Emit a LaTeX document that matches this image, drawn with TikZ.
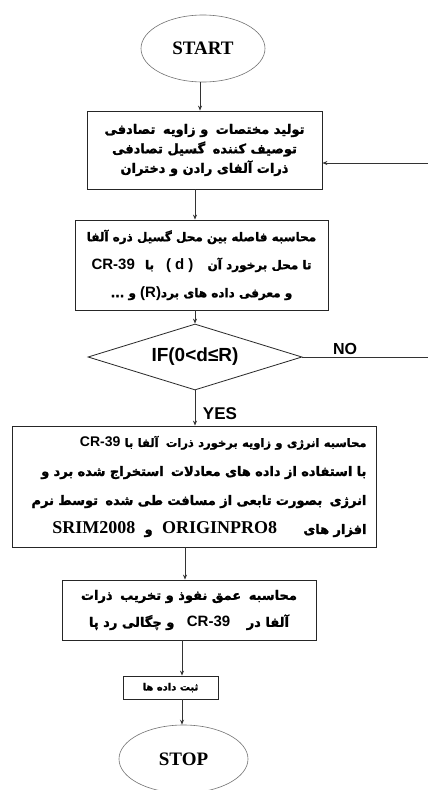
\documentclass[tikz,border=0pt]{standalone}
\usepackage{fontspec}
\setmainfont{Liberation Serif}
\newfontfamily\fa[Script=Arabic, BoldFeatures={FakeBold=1.6}]{DejaVu Sans}
\newfontfamily\las{Liberation Sans}
\TeXXeTstate=1
\usetikzlibrary{shapes.geometric,arrows.meta,calc}
\newcommand{\myrl}[1]{\beginR #1\endR}
\newcommand{\mylt}[1]{\beginL #1\endL{}}
\newcommand{\lsb}[2][15]{\mylt{{\las\bfseries\fontsize{#1}{#1}\selectfont #2}}}
\newcommand{\tsb}[1]{\mylt{{\rmfamily\bfseries\fontsize{18}{18}\selectfont #1}}}
\newcommand{\gap}[1]{\hspace{#1pt}}
\tikzset{
  box/.style={draw=black!85, line width=0.8pt, rectangle, inner sep=0pt},
  term/.style={draw=black!55, line width=0.6pt, ellipse, inner sep=0pt,
    font=\rmfamily\bfseries\fontsize{19}{22}\selectfont},
  arr/.style={draw=black!80, line width=0.8pt, -{Stealth[length=5pt,width=4pt]}},
  ptext/.style 2 args={font=\fa\bfseries\fontsize{#1}{#2}\selectfont, align=center},
  lbl/.style={font=\las\bfseries\fontsize{#1}{#1}\selectfont, inner sep=0pt}
}
\begin{document}
\begin{tikzpicture}[x=1pt,y=-1pt]
\useasboundingbox (0,0) rectangle (428,790);
\fill[white] (0,0) rectangle (428,790);

\node[term, minimum width=124pt, minimum height=67pt] (start) at (203,48.5) {START};

\node[box, ptext={13}{19.5}, minimum width=235pt, minimum height=78pt] (b1) at (204.5,150)
  {\myrl{تولید مختصات \gap{3}و زاویه \gap{3}تصادفی}\\
   \myrl{توصیف کننده \gap{3}گسیل تصادفی}\\
   \myrl{ذرات آلفای رادن و دختران}};

\node[box, ptext={12}{28}, minimum width=253pt, minimum height=90pt] (b2) at (201.5,265)
  {\myrl{محاسبه فاصله بین محل گسیل ذره آلفا}\\
   \myrl{تا محل برخورد آن \gap{10}\lsb{(\gap{4}d\gap{4})}\gap{8} با \gap{6}\lsb{CR-39}}\\
   \myrl{و معرفی داده های برد\lsb{(R)} و ...}};

\node[draw=black!85, line width=0.8pt, diamond, aspect=3.2, inner sep=0pt,
  minimum width=214pt, minimum height=66pt,
  font=\las\bfseries\fontsize{19}{20}\selectfont] (d) at (195,357) {IF(0<d≤R)};

\node[box, font=\fa\bfseries\fontsize{13}{29}\selectfont, align=right,
  text width=345pt, inner xsep=9.5pt, inner ysep=0pt, minimum height=121pt] (b3) at (194,486.5)
  {\myrl{{\fontsize{11.5}{29}\selectfont محاسبه انرژی و زاویه برخورد ذرات \gap{3}آلفا با} \lsb[14]{CR-39}}\\
   \myrl{با استفاده از داده های معادلات \gap{3}استخراج شده برد و}\\
   \myrl{انرژی \gap{3}بصورت تابعی از مسافت طی شده \gap{3}توسط نرم}\\
   \myrl{افزار های \gap{22}\tsb{ORIGINPRO8} \gap{5}و \gap{5}\tsb{SRIM2008}}};

\node[box, ptext={13}{27}, minimum width=254pt, minimum height=60pt] (b4) at (189,610)
  {\myrl{محاسبه \gap{3}عمق نفوذ و تخریب \gap{3}ذرات}\\
   \myrl{آلفا در \gap{12}\lsb{CR-39} \gap{8}و چگالی رد پا}};

\node[box, ptext={10}{14}, minimum width=95pt, minimum height=23pt] (b5) at (170.5,687.5)
  {\myrl{ثبت داده ها}};

\node[term, minimum width=129pt, minimum height=68pt] (stop) at (183.5,759) {STOP};

\node[lbl=16] (no) at (345,349) {NO};
\node[lbl=17] (yes) at (220,414) {YES};
\coordinate (redge) at (431,0);

\draw[arr] ([xshift=-3pt]start.south) -- ([xshift=-3pt]start.south |- b1.north);
\draw[arr] ([xshift=-9.5pt]b1.south) -- ([xshift=-9.5pt]b1.south |- b2.north);
\draw[arr] (b2.south -| d.north) -- (d.north);
\draw[arr] (d.south) -- (d.south |- b3.north);
\draw[arr] ([xshift=-9pt]b3.south) -- ([xshift=-9pt]b3.south |- b4.north);
\draw[arr] ([xshift=-7pt]b4.south) -- ([xshift=-7pt]b4.south |- b5.north);
\draw[arr] ([xshift=-1.5pt]stop.north |- b5.south) -- ([xshift=-1.5pt]stop.north);
\draw[arr] (d.east) -- (d.east -| redge) |- ([yshift=-13pt]b1.east);
\end{tikzpicture}
\end{document}
